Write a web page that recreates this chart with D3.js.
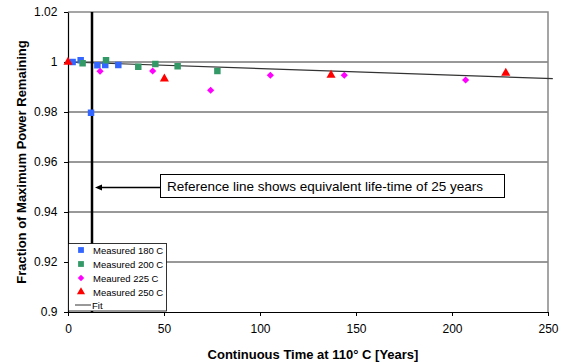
<!DOCTYPE html>
<html>
<head>
<meta charset="utf-8">
<script src="https://cdn.jsdelivr.net/npm/d3@7"></script>
<style>
body { margin: 0; background: #fff; }
svg { font-family: "Liberation Sans", Arial, sans-serif; }
</style>
</head>
<body>
<div id="chart"></div>
<script>
// measured points, [years at 110C, fraction remaining]
var measured180 = [[2.4, 1.0], [6.6, 1.0007], [12, 0.9797], [15.3, 0.9987], [19.4, 0.9988], [26.2, 0.9988]];
var measured200 = [[7.6, 0.9995], [19.8, 1.0007], [36.6, 0.9981], [45.5, 0.9992], [57.1, 0.9983], [77.8, 0.9964]];
var measured225 = [[16.7, 0.9963], [44.1, 0.9964], [74.3, 0.9887], [105.4, 0.9947], [143.9, 0.9947], [207.1, 0.9928]];
var measured250 = [[0, 1.0], [50.2, 0.9933], [137, 0.9948], [228, 0.9956]];
var fitLine = [[0, 1.0], [252.5, 0.99335]];
var refYears = 12.5;
var xTicks = [0, 50, 100, 150, 200, 250];
var yTicks = [0.9, 0.92, 0.94, 0.96, 0.98, 1, 1.02];
var legendNames = ['Measured 180 C', 'Measured 200 C', 'Meaured 225 C', 'Measured 250 C', 'Fit'];

var width = 565, height = 362;
var margin = { left: 68, top: 12, right: 17, bottom: 50 };

var svg = d3.select('#chart').append('svg')
	.attr('width', width)
	.attr('height', height);

let x = d3.scaleLinear().domain([0, 250]).range([margin.left, width - margin.right]);
let y = d3.scaleLinear().domain([0.9, 1.02]).range([height - margin.bottom, margin.top]);

// grid
svg.append('g').selectAll('line')
	.data(yTicks.slice(1, -1))
	.enter().append('line')
	.attr('x1', x(0)).attr('x2', x(250))
	.attr('y1', d => y(d)).attr('y2', d => y(d))
	.attr('stroke', '#333').attr('stroke-width', 1);

// top and right border
svg.append('path')
	.attr('d', 'M' + x(0) + ',' + y(1.02) + 'H' + x(250) + 'V' + y(0.9))
	.attr('fill', 'none').attr('stroke', '#888').attr('stroke-width', 1.5);

// axes
let xAxis = svg.append('g')
	.attr('transform', 'translate(0,' + y(0.9) + ')')
	.call(d3.axisBottom(x).tickValues(xTicks).tickSize(4).tickSizeOuter(0).tickFormat(d3.format('d')));
let yAxis = svg.append('g')
	.attr('transform', 'translate(' + x(0) + ',0)')
	.call(d3.axisLeft(y).tickValues(yTicks).tickSize(4).tickSizeOuter(0).tickFormat(d => d == 1 ? '1' : d == 0.9 ? '0.9' : d3.format('.2f')(d)));
[xAxis, yAxis].forEach(function (a) {
	a.select('.domain').attr('stroke', '#000').attr('stroke-width', 1.2);
	a.selectAll('.tick line').attr('stroke', '#000');
	a.selectAll('.tick text').attr('font-size', 12).attr('fill', '#000').attr('font-family', '"Liberation Sans", Arial, sans-serif');
});
xAxis.selectAll('.tick text').attr('dy', '1.2em');
yAxis.selectAll('.tick text').attr('dx', '-0.3em');

// fit line
svg.append('line')
	.attr('x1', x(fitLine[0][0])).attr('y1', y(fitLine[0][1]))
	.attr('x2', x(fitLine[1][0])).attr('y2', y(fitLine[1][1]))
	.attr('stroke', '#333').attr('stroke-width', 1.2);

// reference line
svg.append('line')
	.attr('x1', x(refYears)).attr('x2', x(refYears))
	.attr('y1', y(1.02)).attr('y2', y(0.9))
	.attr('stroke', '#000').attr('stroke-width', 2.5);

var series = [
	{ data: measured180, color: '#3366ff', shape: d3.symbolSquare, size: 42, rot: 0 },
	{ data: measured200, color: '#339966', shape: d3.symbolSquare, size: 42, rot: 0 },
	{ data: measured225, color: '#ff00ff', shape: d3.symbolSquare, size: 26, rot: 45 },
	{ data: measured250, color: '#ff0000', shape: d3.symbolTriangle, size: 36, rot: 0 }
];

series.forEach(function (s) {
	svg.append('g').selectAll('path')
		.data(s.data)
		.enter().append('path')
		.attr('transform', d => 'translate(' + x(d[0]) + ',' + y(d[1]) + ') rotate(' + s.rot + ')')
		.attr('d', d3.symbol().type(s.shape).size(s.size))
		.attr('fill', s.color);
});

// annotation
let note = svg.append('g');
note.append('rect')
	.attr('x', 160.5).attr('y', 174.5).attr('width', 344).attr('height', 23)
	.attr('fill', '#fff').attr('stroke', '#000');
note.append('text')
	.attr('x', 167).attr('y', 191)
	.attr('font-size', 13.5)
	.text('Reference line shows equivalent life-time of 25 years');
note.append('line')
	.attr('x1', 160).attr('x2', 100).attr('y1', 187.5).attr('y2', 187.5)
	.attr('stroke', '#000').attr('stroke-width', 1.5);
note.append('path')
	.attr('d', 'M95,187.5 L102,184.5 L102,190.5 Z')
	.attr('fill', '#000');

// legend
let legend = svg.append('g');
legend.append('rect')
	.attr('x', 68.5).attr('y', 243.5).attr('width', 98).attr('height', 67.5)
	.attr('fill', '#fff').attr('stroke', '#000').attr('stroke-width', 0.8);
let rowsY = [250, 264, 278, 292, 305];
legendNames.forEach(function (name, i) {
	if (i < 4) {
		let s = series[i];
		legend.append('path')
			.attr('transform', 'translate(81,' + rowsY[i] + ') rotate(' + s.rot + ')')
			.attr('d', d3.symbol().type(s.shape).size(s.size * 0.8))
			.attr('fill', s.color);
	} else {
		legend.append('line')
			.attr('x1', 75).attr('x2', 91).attr('y1', rowsY[i]).attr('y2', rowsY[i])
			.attr('stroke', '#333');
	}
	legend.append('text')
		.attr('x', i < 4 ? 93 : 92).attr('y', rowsY[i] + 3.5)
		.attr('font-size', 9.5)
		.text(name);
});

// axis titles
svg.append('text')
	.attr('x', 313).attr('y', 359)
	.attr('text-anchor', 'middle')
	.attr('font-size', 13).attr('font-weight', 'bold')
	.text('Continuous Time at 110° C [Years]');
svg.append('text')
	.attr('transform', 'translate(26,' + y(0.96) + ') rotate(-90)')
	.attr('text-anchor', 'middle')
	.attr('font-size', 13).attr('font-weight', 'bold')
	.text('Fraction of Maximum Power Remaining');
</script>
</body>
</html>
